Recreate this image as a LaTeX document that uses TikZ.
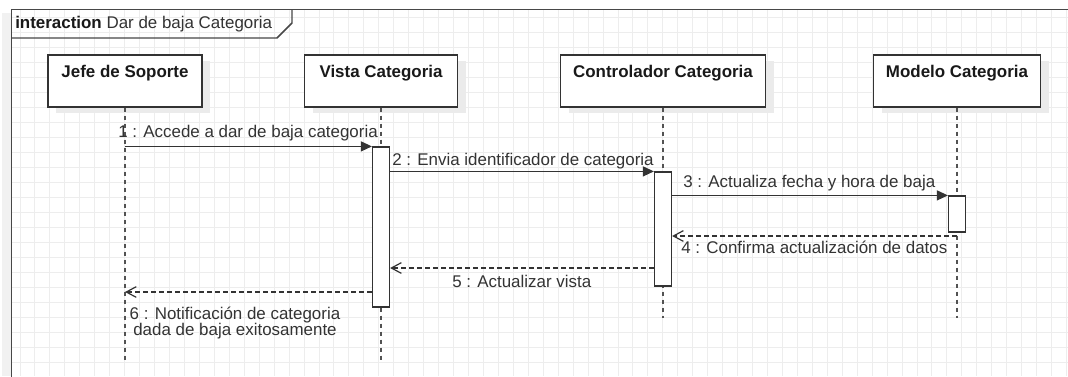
\documentclass[tikz,border=0pt]{standalone}
\usepackage{fontspec}
\setmainfont{Liberation Sans}
\usepackage{xcolor}
\usetikzlibrary{arrows.meta}
\usetikzlibrary{positioning}
\usetikzlibrary{shadows}
\definecolor{umlline}{HTML}{333333}
\definecolor{umlgrid}{HTML}{EDEDED}
\definecolor{umlshadow}{HTML}{EBEBEB}
\tikzset{
  gridline/.style={umlgrid, line width=0.75pt},
  frameline/.style={draw=umlline!90, line width=1.1pt},
  lifebox/.style={draw=umlline, line width=1.1pt, fill=white, minimum height=39pt, inner sep=0,
    drop shadow={shadow xshift=6pt, shadow yshift=-4.5pt, fill=umlshadow, opacity=1}},
  lifetitle/.style={font=\bfseries\fontsize{12.7}{15}\selectfont, text=black!90, inner sep=0, anchor=base},
  lifeline/.style={draw=umlline!85, line width=0.9pt, dash pattern=on 3pt off 3pt},
  actbar/.style={draw=umlline, line width=0.9pt, fill=white, minimum width=12.75pt, inner sep=0},
  msg/.style={draw=umlline, line width=0.9pt, -{Triangle[length=8.25pt,width=7.5pt]}},
  ret/.style={draw=umlline, line width=0.9pt, dash pattern=on 3.5pt off 2.5pt, -{Straight Barb[length=7.5pt,width=8pt]}},
  msglabel/.style={font=\fontsize{12.7}{12}\selectfont, text=umlline, inner sep=0, anchor=base west}
}
\begin{document}
\begin{tikzpicture}[x=0.75pt, y=-0.75pt]
\useasboundingbox (0,0) rectangle (1068,376);
\fill[white] (0,0) rectangle (1068,376);
\fill[umlshadow!70] (2,13) rectangle (11,376);
\foreach \k in {0,...,70} \draw[gridline] ({20+14.95*\k},9.5) -- ({20+14.95*\k},376);
\foreach \k in {1,...,24} \draw[gridline] (11.5,{2+15*\k}) -- (1068,{2+15*\k});
\draw[frameline] (11.5,380) -- (11.5,9.5) -- (1072,9.5);
\draw[frameline] (11.5,38) -- (277,38) -- (292,23) -- (292,9.5);
\node[font=\fontsize{12.7}{15}\selectfont, text=umlline, inner sep=0, anchor=base west] (frame-title) at (15,28) {\textbf{\color{black!90}interaction} Dar de baja Categoria};

\node[lifebox, minimum width=115.5pt] (jefe) at (125,81) {};
\node[lifebox, minimum width=114.75pt] (vista) at (381,81) {};
\node[lifebox, minimum width=153.75pt] (ctrl) at (663,81) {};
\node[lifebox, minimum width=125.25pt] (modelo) at (957,81) {};
\node[lifetitle] (jefe-t) at (125,77) {Jefe de Soporte};
\node[lifetitle] (vista-t) at (381,77) {Vista Categoria};
\node[lifetitle] (ctrl-t) at (663,77) {Controlador Categoria};
\node[lifetitle] (modelo-t) at (957,77) {Modelo Categoria};

\coordinate (jefe-end) at (125,362);
\coordinate (vista-end) at (381,362);
\coordinate (ctrl-end) at (663,318);
\coordinate (modelo-end) at (957,318);
\draw[lifeline] (jefe.south) -- (jefe-end);
\draw[lifeline] (vista.south) -- (vista-end);
\draw[lifeline] (ctrl.south) -- (ctrl-end);
\draw[lifeline] (modelo.south) -- (modelo-end);

\node[actbar, minimum height=120pt] (vact) at (381,227) {};
\node[actbar, minimum height=85.5pt] (cact) at (663,229) {};
\node[actbar, minimum height=27pt] (mact) at (957,214) {};

\coordinate (r4) at (957,236);
\coordinate (r5) at (cact.west |- 0,268);
\coordinate (r6) at (vact.west |- 0,292);
\draw[msg] (jefe.south |- vact.north) -- (vact.north west);
\draw[msg] (vact.east |- cact.north) -- (cact.north west);
\draw[msg] (cact.east |- mact.north) -- (mact.north west);
\draw[ret] (r4) -- (cact.east |- r4);
\draw[ret] (r5) -- (vact.east |- r5);
\draw[ret] (r6) -- (jefe.south |- r6);

\node[msglabel] (m1) at (118,137) {1 : Accede a dar de baja categoria};
\node[msglabel] (m2) at (392,165) {2 : Envia identificador de categoria};
\node[msglabel] (m3) at (683,187) {3 : Actualiza fecha y hora de baja};
\node[msglabel] (m4) at (681,253) {4 : Confirma actualización de datos};
\node[msglabel] (m5) at (452,287) {5 : Actualizar vista};
\node[msglabel, anchor=base, align=center] (m6) at (235,335) {6 : Notificación de categoria\\dada de baja exitosamente};
\end{tikzpicture}
\end{document}
